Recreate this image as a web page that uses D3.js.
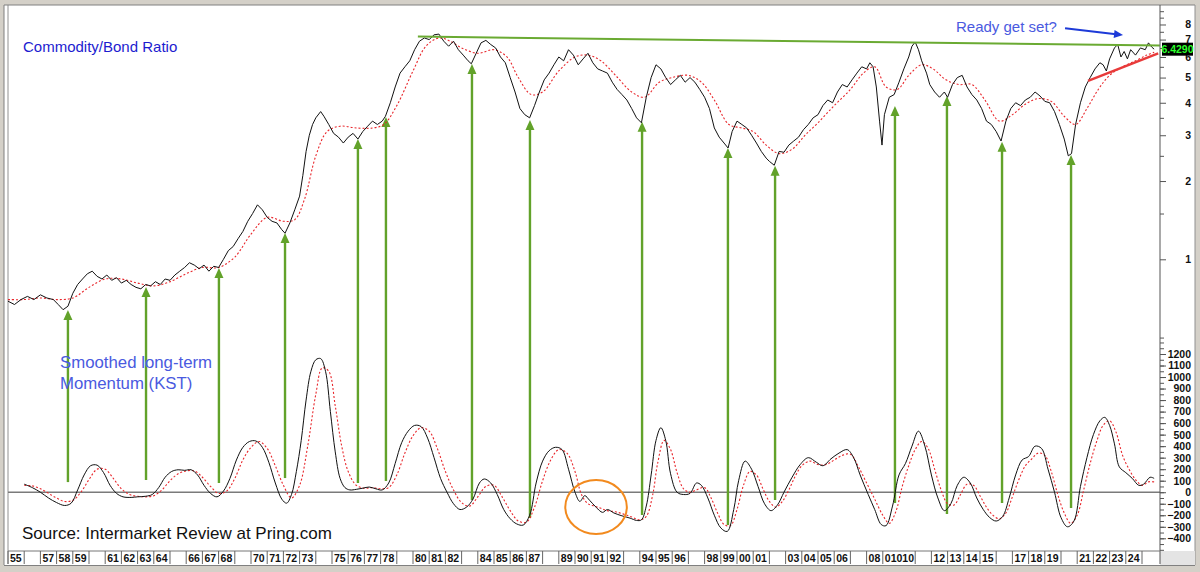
<!DOCTYPE html>
<html>
<head>
<meta charset="utf-8">
<script src="https://d3js.org/d3.v7.min.js"></script>
<style>
  body { margin: 0; background: #d4d0c8; }
  svg { display: block; }
  text { font-family: "Liberation Sans", Arial, sans-serif; }
</style>
</head>
<body>
<div id="chart"></div>
<script>
// ---- data ----
// commodity/bond ratio, [year, value]
const ratio = [
  [1955.0,0.69],[1955.4,0.67],[1955.8,0.70],[1956.2,0.72],[1956.6,0.70],[1957.0,0.73],[1957.4,0.71],[1957.8,0.70],
  [1958.1,0.67],[1958.4,0.64],[1958.7,0.66],[1959.0,0.74],[1959.3,0.80],[1959.6,0.84],[1959.9,0.88],[1960.2,0.90],
  [1960.5,0.86],[1960.8,0.84],[1961.1,0.87],[1961.4,0.83],[1961.7,0.85],[1962.0,0.81],[1962.3,0.83],[1962.6,0.80],
  [1962.9,0.78],[1963.2,0.77],[1963.5,0.80],[1963.8,0.79],[1964.1,0.82],[1964.4,0.80],[1964.7,0.84],[1965.0,0.83],
  [1965.3,0.87],[1965.6,0.90],[1965.9,0.93],[1966.2,0.97],[1966.5,0.95],[1966.8,0.92],[1967.1,0.95],[1967.4,0.90],
  [1967.7,0.94],[1968.0,0.93],[1968.3,1.00],[1968.6,1.08],[1968.9,1.12],[1969.2,1.20],[1969.5,1.28],[1969.8,1.40],
  [1970.1,1.50],[1970.4,1.62],[1970.7,1.55],[1971.0,1.45],[1971.3,1.40],[1971.6,1.38],[1971.9,1.30],[1972.1,1.26],
  [1972.4,1.38],[1972.7,1.55],[1973.0,1.75],[1973.2,2.10],[1973.4,2.60],[1973.6,3.00],[1973.8,3.30],[1974.0,3.50],
  [1974.3,3.70],[1974.5,3.55],[1974.8,3.30],[1975.1,3.05],[1975.4,2.95],[1975.7,2.80],[1976.0,2.95],[1976.3,3.05],
  [1976.6,2.90],[1976.9,3.10],[1977.2,3.25],[1977.5,3.40],[1977.8,3.30],[1978.1,3.40],[1978.3,3.55],[1978.6,4.00],
  [1978.9,4.60],[1979.2,5.20],[1979.5,5.50],[1979.8,5.80],[1980.1,6.40],[1980.4,6.90],[1980.7,7.10],[1981.0,7.00],
  [1981.3,7.30],[1981.6,7.35],[1981.9,6.90],[1982.2,6.60],[1982.5,6.90],[1982.8,6.40],[1983.1,6.10],[1983.4,5.80],
  [1983.6,5.65],[1983.9,6.20],[1984.2,6.80],[1984.5,6.95],[1984.8,6.70],[1985.1,6.50],[1985.4,6.00],[1985.7,5.70],
  [1986.0,5.00],[1986.3,4.40],[1986.6,3.80],[1986.9,3.60],[1987.2,3.50],[1987.5,3.90],[1987.8,4.40],[1988.1,4.90],
  [1988.4,5.20],[1988.7,5.60],[1989.0,6.00],[1989.3,5.80],[1989.6,6.40],[1989.9,6.10],[1990.2,5.60],[1990.5,5.90],
  [1990.8,6.20],[1991.1,5.70],[1991.4,5.40],[1991.7,5.30],[1992.0,5.20],[1992.3,4.80],[1992.6,4.50],[1992.9,4.30],
  [1993.2,4.10],[1993.5,3.80],[1993.8,3.50],[1994.1,3.35],[1994.4,4.20],[1994.7,5.00],[1995.0,5.60],[1995.3,5.40],
  [1995.6,5.00],[1995.9,4.70],[1996.2,4.90],[1996.5,5.10],[1996.8,4.80],[1997.1,5.00],[1997.4,4.80],[1997.7,4.50],
  [1998.0,4.20],[1998.3,3.80],[1998.6,3.20],[1998.9,2.95],[1999.2,2.80],[1999.45,2.68],[1999.7,3.10],[2000.0,3.40],
  [2000.3,3.30],[2000.6,3.20],[2000.9,3.00],[2001.2,2.80],[2001.5,2.60],[2001.8,2.45],[2002.0,2.38],[2002.3,2.30],
  [2002.6,2.60],[2002.9,2.58],[2003.2,2.75],[2003.5,2.85],[2003.8,2.95],[2004.1,3.15],[2004.4,3.30],[2004.7,3.50],
  [2005.0,3.60],[2005.3,3.90],[2005.6,4.10],[2005.9,4.00],[2006.2,4.40],[2006.5,4.70],[2006.8,4.60],[2007.1,4.90],
  [2007.4,5.20],[2007.7,5.50],[2008.0,5.40],[2008.2,5.70],[2008.4,5.50],[2008.6,4.60],[2008.8,3.40],[2008.95,2.75],
  [2009.1,3.60],[2009.4,4.20],[2009.7,4.30],[2010.0,4.80],[2010.3,5.40],[2010.6,6.00],[2010.8,6.60],[2011.0,6.85],
  [2011.2,6.40],[2011.4,5.80],[2011.7,5.20],[2011.9,4.70],[2012.2,4.40],[2012.5,4.20],[2012.8,4.40],[2013.0,4.20],
  [2013.3,4.70],[2013.6,5.00],[2013.9,5.10],[2014.2,4.60],[2014.5,4.30],[2014.8,4.10],[2015.1,3.80],[2015.4,3.40],
  [2015.7,3.30],[2016.0,3.10],[2016.3,2.85],[2016.6,3.40],[2016.9,3.80],[2017.2,4.00],[2017.5,3.90],[2017.8,4.10],
  [2018.1,4.20],[2018.4,4.40],[2018.7,4.25],[2019.0,4.05],[2019.3,4.00],[2019.6,3.70],[2019.9,3.30],[2020.2,2.90],
  [2020.45,2.50],[2020.65,2.55],[2020.9,3.30],[2021.2,4.00],[2021.5,4.60],[2021.8,5.00],[2022.1,5.40],[2022.4,5.70],
  [2022.6,5.60],[2022.8,5.30],[2023.0,5.90],[2023.3,6.50],[2023.5,6.70],[2023.7,6.00],[2023.9,6.30],[2024.1,5.90],
  [2024.3,6.40],[2024.6,6.10],[2024.9,6.50],[2025.2,6.40],[2025.4,6.80],[2025.6,6.55],[2025.75,6.429]
];

// its moving average (red dotted)
const ratioAvg = [
  [1955.0,0.70],[1956.0,0.70],[1957.0,0.71],[1958.0,0.70],[1959.0,0.71],[1960.0,0.78],[1961.0,0.84],[1962.0,0.84],
  [1963.0,0.81],[1964.0,0.79],[1965.0,0.82],[1966.0,0.88],[1967.0,0.93],[1968.0,0.93],[1969.0,1.02],[1970.0,1.25],
  [1971.0,1.45],[1972.0,1.40],[1972.7,1.42],[1973.3,1.70],[1974.0,2.50],[1974.7,3.10],[1975.5,3.25],[1976.5,3.20],
  [1977.5,3.20],[1978.2,3.30],[1979.0,3.90],[1980.0,5.30],[1980.8,6.60],[1981.6,7.10],[1982.3,6.90],[1983.0,6.50],
  [1984.0,6.20],[1985.0,6.40],[1985.8,6.00],[1986.5,5.00],[1987.3,4.30],[1988.0,4.40],[1989.0,5.30],[1990.0,6.00],
  [1990.8,6.10],[1991.6,5.80],[1992.5,5.10],[1993.5,4.40],[1994.3,4.20],[1995.2,4.80],[1996.0,5.00],[1997.0,5.10],
  [1997.8,4.80],[1998.6,4.10],[1999.5,3.30],[2000.3,3.20],[2001.0,3.10],[2001.8,2.75],[2002.6,2.55],[2003.4,2.65],
  [2004.2,3.00],[2005.0,3.35],[2006.0,3.90],[2007.0,4.50],[2007.8,5.20],[2008.5,5.50],[2009.2,4.60],[2009.9,4.50],
  [2010.6,5.10],[2011.4,5.60],[2012.1,5.40],[2012.9,4.90],[2013.7,4.70],[2014.5,4.70],[2015.3,4.10],[2016.2,3.40],
  [2017.0,3.60],[2017.8,3.95],[2018.6,4.15],[2019.4,4.05],[2020.2,3.55],[2020.9,3.30],[2021.6,3.80],[2022.3,4.50],
  [2023.0,5.10],[2023.8,5.50],[2024.6,5.80],[2025.3,6.10],[2025.75,6.25]
];

// smoothed long-term KST
const kst = [
  [1956.0,70],[1956.5,40],[1957.0,0],[1957.5,-50],[1958.0,-90],[1958.5,-115],[1958.9,-95],[1959.3,20],[1959.7,150],
  [1960.1,230],[1960.5,235],[1960.9,170],[1961.3,60],[1961.7,-10],[1962.1,-40],[1962.6,-45],[1963.0,-40],[1963.5,-35],
  [1963.9,-20],[1964.3,40],[1964.7,130],[1965.1,180],[1965.5,195],[1965.9,190],[1966.3,195],[1966.7,150],[1967.1,60],
  [1967.5,-10],[1967.9,-40],[1968.3,10],[1968.7,120],[1969.1,280],[1969.5,390],[1969.9,440],[1970.3,445],[1970.7,390],
  [1971.1,260],[1971.5,80],[1971.9,-60],[1972.2,-95],[1972.5,-20],[1972.8,180],[1973.1,450],[1973.4,800],[1973.7,1050],
  [1974.0,1150],[1974.3,1160],[1974.6,1050],[1974.9,700],[1975.2,350],[1975.5,120],[1975.8,40],[1976.1,20],[1976.5,25],
  [1976.9,35],[1977.3,45],[1977.7,30],[1978.1,20],[1978.5,80],[1978.9,250],[1979.3,430],[1979.7,530],[1980.1,580],
  [1980.5,570],[1980.9,470],[1981.3,300],[1981.7,120],[1982.1,0],[1982.5,-100],[1982.9,-150],[1983.3,-130],[1983.7,-60],
  [1984.1,80],[1984.4,115],[1984.8,80],[1985.2,-20],[1985.6,-150],[1986.0,-230],[1986.4,-275],[1986.8,-285],[1987.2,-200],
  [1987.6,80],[1988.0,270],[1988.4,360],[1988.8,390],[1989.2,370],[1989.6,200],[1990.0,0],[1990.3,-80],[1990.6,-30],
  [1990.9,-70],[1991.3,-130],[1991.7,-175],[1992.0,-150],[1992.4,-180],[1992.9,-205],[1993.4,-225],[1993.8,-245],
  [1994.1,-240],[1994.4,-120],[1994.7,150],[1995.0,450],[1995.3,560],[1995.6,450],[1995.9,160],[1996.3,0],[1996.7,-20],
  [1997.1,-10],[1997.5,80],[1997.8,60],[1998.2,-50],[1998.6,-200],[1999.0,-310],[1999.4,-340],[1999.8,-150],[2000.1,100],
  [2000.5,270],[2000.9,200],[2001.3,50],[2001.7,-100],[2002.1,-160],[2002.5,-110],[2002.9,0],[2003.4,130],[2003.9,240],
  [2004.4,300],[2004.9,260],[2005.3,230],[2005.8,290],[2006.3,340],[2006.8,370],[2007.2,300],[2007.6,150],[2008.1,-20],
  [2008.5,-150],[2008.9,-280],[2009.2,-290],[2009.6,-120],[2010.0,150],[2010.4,250],[2010.8,400],[2011.2,530],[2011.6,400],
  [2012.0,150],[2012.4,-50],[2012.8,-160],[2013.2,-100],[2013.6,60],[2014.0,130],[2014.4,80],[2014.8,-50],[2015.2,-150],
  [2015.6,-220],[2016.0,-250],[2016.4,-210],[2016.8,-50],[2017.2,150],[2017.6,280],[2018.0,310],[2018.4,400],[2018.8,380],
  [2019.2,200],[2019.6,0],[2020.0,-220],[2020.4,-300],[2020.8,-250],[2021.2,50],[2021.6,300],[2022.0,500],[2022.4,620],
  [2022.7,650],[2023.0,580],[2023.3,420],[2023.6,220],[2024.0,170],[2024.4,120],[2024.8,60],[2025.1,70],[2025.5,130],
  [2025.75,120]
];

// its signal line (red dotted)
const kstSignal = [
  [1956.0,60],[1956.5,55],[1957.0,30],[1957.5,-10],[1958.0,-50],[1958.5,-80],[1959.0,-70],[1959.5,0],[1960.0,110],
  [1960.5,200],[1961.0,200],[1961.5,120],[1962.0,30],[1962.5,-20],[1963.0,-35],[1963.5,-40],[1964.0,-30],[1964.5,20],
  [1965.0,100],[1965.5,160],[1966.0,185],[1966.5,185],[1967.0,130],[1967.5,50],[1968.0,-10],[1968.5,10],[1969.0,120],
  [1969.5,280],[1970.0,390],[1970.5,440],[1971.0,380],[1971.5,230],[1972.0,60],[1972.5,-50],[1973.0,60],[1973.5,400],
  [1974.0,850],[1974.4,1080],[1974.8,1050],[1975.2,750],[1975.6,400],[1976.0,180],[1976.5,60],[1977.0,35],[1977.5,40],
  [1978.0,30],[1978.5,40],[1979.0,150],[1979.5,340],[1980.0,490],[1980.5,560],[1981.0,530],[1981.5,380],[1982.0,180],
  [1982.5,20],[1983.0,-90],[1983.5,-120],[1984.0,-40],[1984.5,50],[1985.0,60],[1985.5,-40],[1986.0,-160],[1986.5,-250],
  [1987.0,-260],[1987.5,-130],[1988.0,100],[1988.5,280],[1989.0,370],[1989.5,340],[1990.0,180],[1990.4,-20],[1990.8,-100],
  [1991.2,-120],[1991.6,-140],[1992.0,-160],[1992.5,-170],[1993.0,-190],[1993.5,-215],[1994.0,-240],[1994.4,-210],
  [1994.8,-20],[1995.1,250],[1995.5,450],[1995.9,370],[1996.3,170],[1996.7,30],[1997.1,0],[1997.5,20],[1998.0,40],
  [1998.4,-50],[1998.8,-180],[1999.2,-280],[1999.6,-290],[2000.0,-150],[2000.4,60],[2000.8,180],[2001.2,150],[2001.6,30],
  [2002.0,-80],[2002.4,-130],[2002.8,-80],[2003.2,20],[2003.6,140],[2004.0,230],[2004.5,270],[2005.0,240],[2005.5,240],
  [2006.0,280],[2006.5,320],[2007.0,330],[2007.5,220],[2008.0,80],[2008.5,-60],[2009.0,-200],[2009.4,-270],[2009.8,-170],
  [2010.2,50],[2010.6,230],[2011.0,370],[2011.4,440],[2011.8,380],[2012.2,200],[2012.6,20],[2013.0,-100],[2013.4,-110],
  [2013.8,-20],[2014.2,70],[2014.6,60],[2015.0,-30],[2015.4,-130],[2015.8,-200],[2016.2,-230],[2016.6,-180],[2017.0,-40],
  [2017.4,110],[2017.8,230],[2018.2,290],[2018.6,340],[2019.0,320],[2019.4,180],[2019.8,-20],[2020.2,-180],[2020.6,-270],
  [2021.0,-200],[2021.4,20],[2021.8,250],[2022.2,440],[2022.6,580],[2023.0,620],[2023.4,520],[2023.8,320],[2024.2,200],
  [2024.6,110],[2025.0,60],[2025.4,90],[2025.75,90]
];

// green buy arrows: year, ratio low at the tip, KST level at the foot
const arrowYears  = [1958.7, 1963.52, 1968.02, 1972.1, 1976.6, 1978.33, 1983.64, 1987.22, 1994.14, 1999.44, 2002.35, 2009.75, 2012.96, 2016.36, 2020.62];
const arrowTips   = [0.638, 0.782, 0.926, 1.262, 2.90, 3.53, 5.64, 3.43, 3.38, 2.68, 2.29, 3.89, 4.25, 2.83, 2.52];
const arrowFeet   = [88, 106, 80, 123, 80, 97, -68, -224, -198, -285, -68, -94, -189, -94, -137];

// trendlines
const resistYears = [1980.3, 2026.1];
const resistValues = [7.19, 6.64];
const supportYears = [2021.67, 2026.0];
const supportValues = [4.86, 6.2];
const noteArrowYears = [2020.25, 2023.83];
const noteArrowValues = [7.74, 7.29];
// orange ring around the 1990-92 failure
const ringYears = [1989.4, 1993.2];
const ringKst = [-362, 106];

// axis ticks
const ratioTicks = [1, 2, 3, 4, 5, 6, 7, 8];
const ratioMinor = [0.5, 1.5, 2.5, 3.5, 4.5, 5.5, 6.5, 7.5, 8.5, 9];
const kstTicks = d3.range(-400, 1201, 100);
const kstMinor = d3.range(-500, 1301, 50);
// one entry per year from 1955; null = no tick drawn
const yearLabels = ["55","","57","58","59","","61","62","63","64","","66","67","68","","70","71","72","73","",
  "75","76","77","78","","80","81","82","","84","85","86","87","","89","90","91","92","","94","95","96","",
  "98","99","00","01","","03","04","05","06","","08","01010",null,"","12","13","14","15","","17","18","19","",
  "21","22","23","24",""];
const lastValue = "6.4290";

// ---- chart ----
const svgWidth = 1200, svgHeight = 572;
const plotLeft = 8, plotRight = 1160, plotTop = 5, plotBottom = 551;

const svg = d3.select("#chart").append("svg")
  .attr("width", svgWidth)
  .attr("height", svgHeight);

const x = d3.scaleLinear().domain([1955, 2026]).range([8, 1158.2]);
const yRatio = d3.scaleLog().domain([1, 10]).range([259.3, -0.7]);
const yKst = d3.scaleLinear().domain([-400, 1200]).range([538.3, 354]);

// window frame
svg.append("rect").attr("x", 4).attr("y", 5).attr("width", 1191).attr("height", 560).attr("fill", "#fff");
svg.append("line").attr("x1", 4).attr("x2", 4).attr("y1", 5).attr("y2", 565).attr("stroke", "#808080");
svg.append("line").attr("x1", plotLeft).attr("x2", plotLeft).attr("y1", 5).attr("y2", 564).attr("stroke", "#909090");
svg.append("line").attr("x1", 4).attr("x2", 1195).attr("y1", 5).attr("y2", 5).attr("stroke", "#808080");
svg.append("line").attr("x1", 4).attr("x2", 1195).attr("y1", 565.5).attr("y2", 565.5).attr("stroke", "#808080");
svg.append("line").attr("x1", 1195).attr("x2", 1195).attr("y1", 5).attr("y2", 565).attr("stroke", "#909090");
svg.append("rect").attr("x", plotRight).attr("y", plotBottom).attr("width", 35).attr("height", 14).attr("fill", "#e4e4e4");

svg.append("defs").append("clipPath").attr("id", "clip")
  .append("rect").attr("x", plotLeft).attr("y", plotTop).attr("width", plotRight - plotLeft).attr("height", plotBottom - plotTop);

const plot = svg.append("g").attr("clip-path", "url(#clip)");

// zero line of the KST
plot.append("line")
  .attr("x1", plotLeft).attr("x2", plotRight)
  .attr("y1", yKst(0)).attr("y2", yKst(0))
  .attr("stroke", "#7a7a7a").attr("stroke-width", 1.5);

// green arrows
const green = "#62a22a";
arrowYears.forEach((yr, i) => {
  const ax = x(yr), tip = yRatio(arrowTips[i]);
  plot.append("line")
    .attr("x1", ax).attr("x2", ax)
    .attr("y1", yKst(arrowFeet[i])).attr("y2", tip + 8)
    .attr("stroke", green).attr("stroke-width", 2.4);
  plot.append("path")
    .attr("d", `M${ax},${tip} L${ax - 4.5},${tip + 10} L${ax + 4.5},${tip + 10} Z`)
    .attr("fill", green);
});

// ratio and its average
const ratioLine = d3.line().x(d => x(d[0])).y(d => yRatio(d[1]));
const ratioSmooth = d3.line().x(d => x(d[0])).y(d => yRatio(d[1])).curve(d3.curveCatmullRom.alpha(0.5));
const kstLine = d3.line().x(d => x(d[0])).y(d => yKst(d[1])).curve(d3.curveCatmullRom.alpha(0.5));

plot.append("path").datum(ratioAvg)
  .attr("d", ratioSmooth).attr("fill", "none")
  .attr("stroke", "#e8262b").attr("stroke-width", 1.1).attr("stroke-dasharray", "2,2");
plot.append("path").datum(ratio)
  .attr("d", ratioLine).attr("fill", "none")
  .attr("stroke", "#111").attr("stroke-width", 1).attr("stroke-linejoin", "round");

plot.append("path").datum(kstSignal)
  .attr("d", kstLine).attr("fill", "none")
  .attr("stroke", "#e8262b").attr("stroke-width", 1.1).attr("stroke-dasharray", "2,2");
plot.append("path").datum(kst)
  .attr("d", kstLine).attr("fill", "none")
  .attr("stroke", "#111").attr("stroke-width", 1);

// trendlines
plot.append("line")
  .attr("x1", x(resistYears[0])).attr("y1", yRatio(resistValues[0]))
  .attr("x2", x(resistYears[1])).attr("y2", yRatio(resistValues[1]))
  .attr("stroke", "#6aaa32").attr("stroke-width", 2);
plot.append("line")
  .attr("x1", x(supportYears[0])).attr("y1", yRatio(supportValues[0]))
  .attr("x2", x(supportYears[1])).attr("y2", yRatio(supportValues[1]))
  .attr("stroke", "#e83a3a").attr("stroke-width", 2.4);

// orange ring
plot.append("ellipse")
  .attr("cx", (x(ringYears[0]) + x(ringYears[1])) / 2)
  .attr("cy", (yKst(ringKst[0]) + yKst(ringKst[1])) / 2)
  .attr("rx", (x(ringYears[1]) - x(ringYears[0])) / 2)
  .attr("ry", (yKst(ringKst[0]) - yKst(ringKst[1])) / 2)
  .attr("fill", "none").attr("stroke", "#f28a1e").attr("stroke-width", 2);

// blue note arrow
const bx1 = x(noteArrowYears[0]), by1 = yRatio(noteArrowValues[0]);
const bx2 = x(noteArrowYears[1]), by2 = yRatio(noteArrowValues[1]);
const ang = Math.atan2(by2 - by1, bx2 - bx1);
svg.append("line")
  .attr("x1", bx1).attr("y1", by1)
  .attr("x2", bx2 - 7 * Math.cos(ang)).attr("y2", by2 - 7 * Math.sin(ang))
  .attr("stroke", "#1d3ad8").attr("stroke-width", 2);
svg.append("path")
  .attr("d", `M0,0 L-9,-4 L-9,4 Z`)
  .attr("transform", `translate(${bx2},${by2}) rotate(${ang * 180 / Math.PI})`)
  .attr("fill", "#1d3ad8");

// texts
svg.append("text").attr("x", 23).attr("y", 52)
  .attr("font-size", 15).attr("fill", "#1c1cd0").text("Commodity/Bond Ratio");
svg.append("text").attr("x", 956).attr("y", 31.5)
  .attr("font-size", 15).attr("fill", "#4a5ae0").text("Ready get set?");
svg.append("text").attr("x", 60).attr("y", 367.5)
  .attr("font-size", 16.8).attr("fill", "#4a5ae0").text("Smoothed long-term");
svg.append("text").attr("x", 60).attr("y", 388.5)
  .attr("font-size", 16.8).attr("fill", "#4a5ae0").text("Momentum (KST)");
svg.append("text").attr("x", 22).attr("y", 539)
  .attr("font-size", 17).attr("fill", "#111").text("Source: Intermarket Review at Pring.com");

// right axes
svg.append("line").attr("x1", plotRight).attr("x2", plotRight).attr("y1", 5).attr("y2", 564)
  .attr("stroke", "#555");

function styleAxis(g, labelled) {
  g.select(".domain").remove();
  g.selectAll(".tick line").attr("stroke", "#555");
  if (labelled) {
    g.selectAll(".tick text")
      .attr("x", 31).attr("text-anchor", "end")
      .attr("font-family", "'Liberation Sans', Arial, sans-serif")
      .attr("font-weight", "bold").attr("font-size", 10.5).attr("fill", "#111");
  }
}

svg.append("g").attr("transform", `translate(${plotRight},0)`)
  .call(d3.axisRight(yRatio).tickValues(ratioMinor).tickSize(4).tickFormat(""))
  .call(g => styleAxis(g, false));
svg.append("g").attr("transform", `translate(${plotRight},0)`)
  .call(d3.axisRight(yRatio).tickValues(ratioTicks).tickSize(6).tickFormat(d3.format("d")))
  .call(g => styleAxis(g, true));

svg.append("g").attr("transform", `translate(${plotRight},0)`)
  .call(d3.axisRight(yKst).tickValues(kstMinor).tickSize(4).tickFormat(""))
  .call(g => styleAxis(g, false));
svg.append("g").attr("transform", `translate(${plotRight},0)`)
  .call(d3.axisRight(yKst).tickValues(kstTicks).tickSize(6).tickFormat(d3.format("d")))
  .call(g => styleAxis(g, true));

// last value box
const lastY = yRatio(ratio[ratio.length - 1][1]);
svg.append("rect").attr("x", 1162).attr("y", lastY - 6.5).attr("width", 31).attr("height", 13).attr("fill", "#000");
svg.append("text").attr("x", 1177.5).attr("y", lastY + 3.8).attr("text-anchor", "middle")
  .attr("font-size", 10.5).attr("font-weight", "bold").attr("fill", "#2cff2c").text(lastValue);

// year strip along the bottom
svg.append("line").attr("x1", plotLeft).attr("x2", plotRight).attr("y1", plotBottom).attr("y2", plotBottom)
  .attr("stroke", "#777");
const yearStrip = svg.append("g");
yearLabels.forEach((lab, i) => {
  if (lab === null) return;
  const tx = x(1955 + i);
  yearStrip.append("line").attr("x1", tx).attr("x2", tx).attr("y1", plotBottom).attr("y2", 564)
    .attr("stroke", "#666");
  if (lab) {
    yearStrip.append("text").attr("x", tx + 2).attr("y", 561.5)
      .attr("font-size", 10.5).attr("font-weight", "bold").attr("fill", "#111").text(lab);
  }
});
</script>
</body>
</html>
